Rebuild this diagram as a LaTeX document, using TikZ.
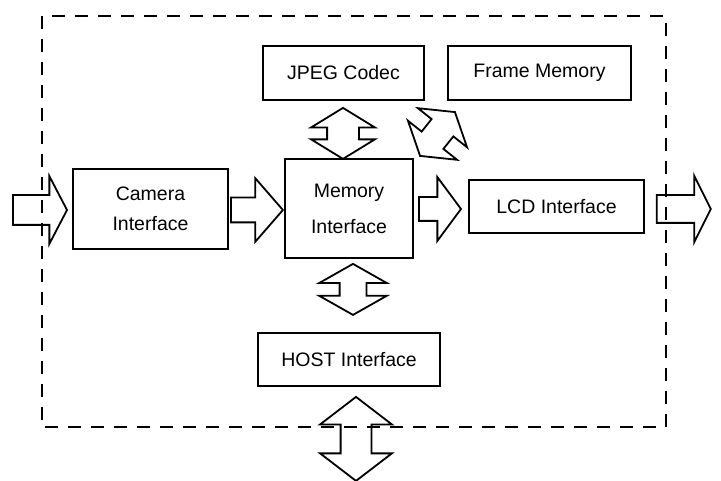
\documentclass[tikz,border=0pt]{standalone}
\usepackage{fontspec}
\setmainfont{Liberation Sans}
\usetikzlibrary{shapes.arrows,calc}

\begin{document}
\begin{tikzpicture}[x=1pt,y=-1pt]
                \useasboundingbox (0,0) rectangle (721,481);
                % outer dashed frame
                \draw[line width=2.8pt, dash pattern=on 13pt off 10pt] (42,16) rectangle (666,427);
                \begin{scope}[every node/.style={draw, line width=1.8pt, inner sep=0, align=center, font=\fontsize{19.5}{30}\selectfont}]
                        \node[minimum width=161pt, minimum height=54pt] (jpeg) at (343.5,73) {JPEG Codec};
                        \node[minimum width=183pt, minimum height=54pt] (frame) at (539.5,73) {Frame Memory};
                        \node[minimum width=155pt, minimum height=80pt] (cam) at (150.5,209) {Camera\\Interface};
                        \node[minimum width=128pt, minimum height=99pt] (mem) at (349,208.5) {Memory\\[6pt]Interface};
                        \node[minimum width=175pt, minimum height=53pt] (lcd) at (556.5,206.5) {LCD Interface};
                        \node[minimum width=182pt, minimum height=53pt] (host) at (349,359.5) {HOST Interface};
                \end{scope}
                \begin{scope}[every node/.style={draw, line width=1.8pt, inner xsep=0pt, minimum width=0pt}]
                        % one way
                        \node[single arrow, anchor=tail, minimum height=54pt, inner ysep=14pt, single arrow head extend=19pt, single arrow tip angle=125] (inarr) at ($(cam.west)+(-60,1)$) {};
                        \node[single arrow, anchor=tip, minimum height=52pt, inner ysep=11.5pt, single arrow head extend=19.5pt, single arrow tip angle=98] (c2m) at ($(mem.west)+(0,1.5)$) {};
                        \node[single arrow, anchor=tip, minimum height=42pt, inner ysep=11pt, single arrow head extend=20pt, single arrow tip angle=107] (m2l) at ($(lcd.west)+(-6,2.5)$) {};
                        \node[single arrow, anchor=tail, minimum height=54pt, inner ysep=13pt, single arrow head extend=19.5pt, single arrow tip angle=127] (outarr) at ($(lcd.east)+(11,2.5)$) {};
                        % both ways
                        \node[double arrow, rotate=90, minimum height=51pt, inner ysep=15pt, double arrow head extend=16pt, double arrow tip angle=117] (j2m) at ($(jpeg.south)+(-0.5,32.5)$) {};
                        \node[double arrow, rotate=51.5, minimum height=56pt, inner ysep=13pt, double arrow head extend=17.5pt, double arrow tip angle=115] (m2f) at (437.5,134) {};
                        \node[double arrow, rotate=90, minimum height=51pt, inner ysep=12.5pt, double arrow head extend=20.5pt, double arrow tip angle=121] (m2h) at ($(mem.south)+(4,30.5)$) {};
                        \node[double arrow, rotate=90, minimum height=84pt, inner ysep=14.5pt, double arrow head extend=20.5pt, double arrow tip angle=105] (hostbus) at ($(host.south)+(7,52)$) {};
                \end{scope}
        \end{tikzpicture}
\end{document}
